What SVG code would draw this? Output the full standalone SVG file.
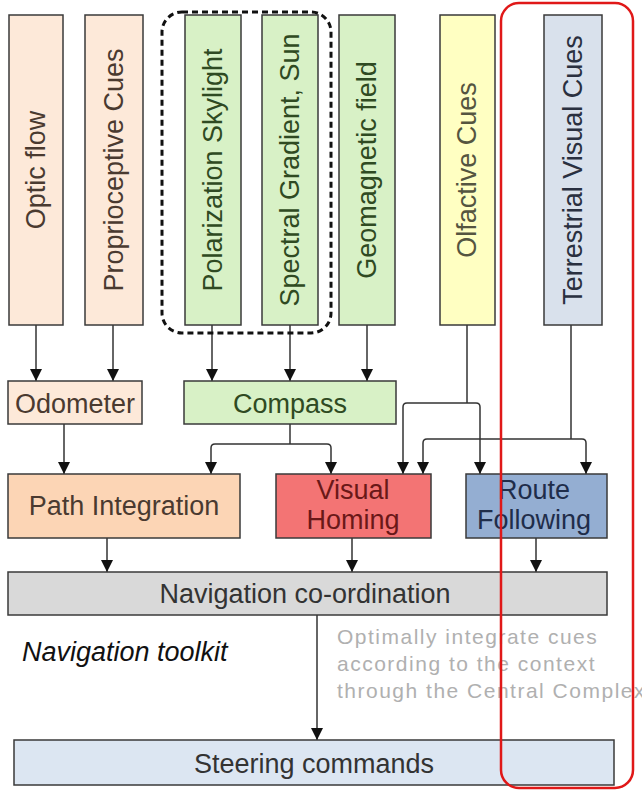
<svg xmlns="http://www.w3.org/2000/svg" width="642" height="791" viewBox="0 0 642 791">
<defs>
<marker id="ah" markerWidth="12" markerHeight="16" refX="12" refY="6" orient="auto" markerUnits="userSpaceOnUse" viewBox="0 0 12 12">
<path d="M0,0 L12,6 L0,12 Z" fill="#111"/>
</marker>
<style>
.box{stroke:#3a3a3a;stroke-width:1.5}
.lbl{font-family:"Liberation Sans",Arial,sans-serif;font-size:27px;text-anchor:middle}
.con{fill:none;stroke:#333;stroke-width:1.5}
.arr{fill:none;stroke:#333;stroke-width:1.5;marker-end:url(#ah)}
.peach{fill:#fde9d9}
.green{fill:#d8f1c6}
.tb{fill:#4a3a30}
.tg{fill:#2f4a22}
</style>
</defs>
<rect width="642" height="791" fill="#ffffff"/>

<g id="connectors">
<path class="arr" d="M36,325 V381"/>
<path class="arr" d="M113,325 V381"/>
<path class="arr" d="M212,325 V381"/>
<path class="arr" d="M290,325 V381"/>
<path class="arr" d="M367,325 V381"/>
<path class="arr" d="M64,424 V474"/>
<path class="con" d="M290,424 V444"/>
<path class="arr" d="M290,444 H215 Q211,444 211,448 V474"/>
<path class="arr" d="M290,444 H327 Q331,444 331,448 V474"/>
<path class="con" d="M467,325 V403"/>
<path class="arr" d="M467,403 H407 Q403,403 403,407 V474"/>
<path class="arr" d="M467,403 H476 Q480,403 480,407 V474"/>
<path class="con" d="M571,325 V439"/>
<path class="arr" d="M571,439 H427 Q423,439 423,443 V474"/>
<path class="arr" d="M571,439 H582 Q586,439 586,443 V474"/>
<path class="arr" d="M107,538 V572"/>
<path class="arr" d="M352,538 V572"/>
<path class="arr" d="M536,538 V572"/>
<path class="arr" d="M317,615 V740"/>
</g>

<g id="optic-flow">
<rect class="box peach" x="9" y="15" width="54" height="310"/>
<text class="lbl tb" transform="translate(36,170) rotate(-90)" x="0" y="9">Optic flow</text>
</g>
<g id="proprioceptive-cues">
<rect class="box peach" x="85" y="15" width="58" height="310"/>
<text class="lbl tb" transform="translate(114,170) rotate(-90)" x="0" y="9">Proprioceptive Cues</text>
</g>
<g id="polarization-skylight">
<rect class="box green" x="185" y="15" width="56" height="310"/>
<text class="lbl tg" transform="translate(213,170) rotate(-90)" x="0" y="9">Polarization Skylight</text>
</g>
<g id="spectral-gradient">
<rect class="box green" x="262" y="15" width="56" height="310"/>
<text class="lbl tg" transform="translate(290,170) rotate(-90)" x="0" y="9">Spectral Gradient, Sun</text>
</g>
<g id="sky-cues-group">
<rect x="162" y="12" width="169" height="321" rx="20" fill="none" stroke="#111" stroke-width="3" stroke-dasharray="6 4"/>
</g>
<g id="geomagnetic-field">
<rect class="box green" x="339" y="15" width="56" height="310"/>
<text class="lbl tg" transform="translate(367,170) rotate(-90)" x="0" y="9">Geomagnetic field</text>
</g>
<g id="olfactive-cues">
<rect class="box" x="440" y="15" width="55" height="310" fill="#ffffc2"/>
<text class="lbl" fill="#555540" transform="translate(467,170) rotate(-90)" x="0" y="9">Olfactive Cues</text>
</g>
<g id="terrestrial-visual-cues">
<rect class="box" x="544" y="15" width="58" height="310" fill="#d9e1ec"/>
<text class="lbl" fill="#2a3040" transform="translate(573,170) rotate(-90)" x="0" y="9">Terrestrial Visual Cues</text>
</g>

<g id="odometer">
<rect class="box peach" x="8" y="381" width="134" height="43"/>
<text class="lbl tb" x="75" y="413">Odometer</text>
</g>
<g id="compass">
<rect class="box green" x="184" y="381" width="212" height="43"/>
<text class="lbl tg" x="290" y="413">Compass</text>
</g>

<g id="path-integration">
<rect class="box" x="8" y="474" width="232" height="64" fill="#fcd5b5"/>
<text class="lbl tb" x="124" y="515">Path Integration</text>
</g>
<g id="visual-homing">
<rect class="box" x="276" y="474" width="155" height="64" fill="#f37474"/>
<text class="lbl" fill="#6a1818" x="353" y="499">Visual</text>
<text class="lbl" fill="#6a1818" x="353" y="529">Homing</text>
</g>
<g id="route-following">
<rect class="box" x="466" y="474" width="141" height="64" fill="#94aed2"/>
<text class="lbl" fill="#1f2d4a" x="534" y="499">Route</text>
<text class="lbl" fill="#1f2d4a" x="534" y="529">Following</text>
</g>

<g id="navigation-coordination">
<rect class="box" x="8" y="572" width="599" height="43" fill="#d9d9d9"/>
<text class="lbl" fill="#333" x="305" y="603">Navigation co-ordination</text>
</g>

<g id="notes">
<text x="22" y="661" font-family="Liberation Sans, Arial, sans-serif" font-size="27" font-style="italic" fill="#111">Navigation toolkit</text>
<g font-family="Liberation Sans, Arial, sans-serif" font-size="21" fill="#b0b0b0" letter-spacing="1.5">
<text x="337" y="644">Optimally integrate cues</text>
<text x="337" y="671">according to the context</text>
<text x="337" y="698">through the Central Complex</text>
</g>
</g>

<g id="steering-commands">
<rect class="box" x="14" y="740" width="600" height="45" fill="#dce6f2"/>
<text class="lbl" fill="#333" x="314" y="773">Steering commands</text>
</g>

<g id="route-group">
<rect x="501" y="3" width="132" height="785" rx="18" fill="none" stroke="#e01818" stroke-width="2.5"/>
</g>
</svg>
